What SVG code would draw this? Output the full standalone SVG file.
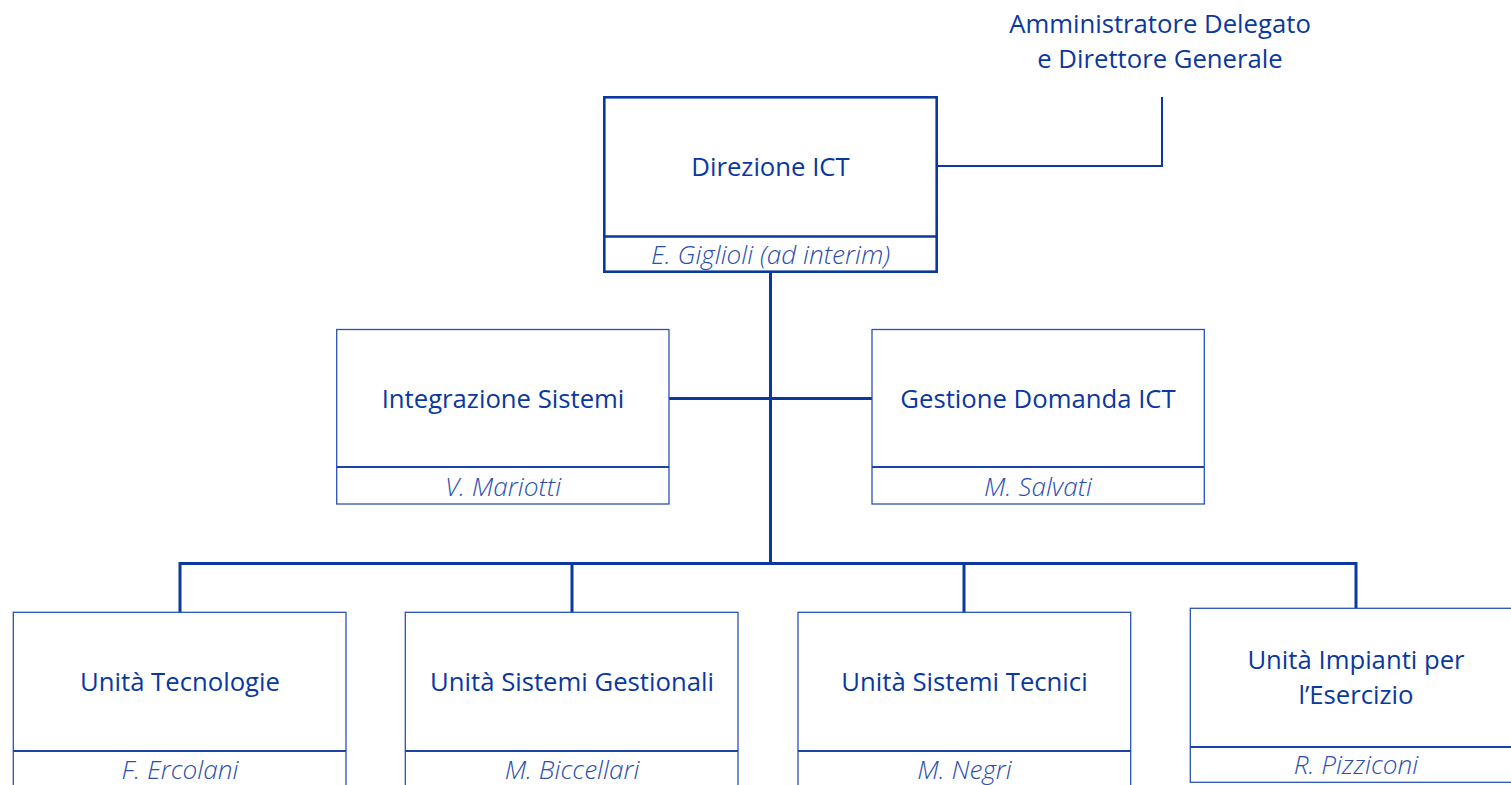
<svg xmlns="http://www.w3.org/2000/svg" width="1511" height="785" viewBox="0 0 1511 785">
<style>
.t{font-family:"Open Sans","Noto Sans","Liberation Sans",sans-serif;font-size:25.7px;fill:#0a38a0;text-anchor:middle}
.n{font-family:"Open Sans","Noto Sans","Liberation Sans",sans-serif;font-size:26.2px;font-style:italic;font-weight:300;fill:#2c4fae;text-anchor:middle}
.box{fill:#fff;stroke:#2a52b5;stroke-width:1.3}
.div{stroke:#1a44a8;stroke-width:2}
.main{fill:#fff;stroke:#0a38a0;stroke-width:2.6}
.c{fill:none;stroke:#0a38a0;stroke-width:3}
.c2{fill:none;stroke:#0a38a0;stroke-width:2}
</style>
<rect width="1511" height="785" fill="#fff"/>
<g id="connectors">
<polyline class="c2" points="937,166 1162,166 1162,97"/>
<line class="c" x1="770.5" y1="272" x2="770.5" y2="563"/>
<line class="c" x1="669" y1="398.5" x2="872" y2="398.5"/>
<polyline class="c" points="180,612 180,563.5 1356,563.5 1356,608"/>
<line class="c" x1="572" y1="563" x2="572" y2="612"/>
<line class="c" x1="964" y1="563" x2="964" y2="612"/>
</g>
<g id="ad">
<text class="t" x="1160" y="33">Amministratore Delegato</text>
<text class="t" x="1160" y="68">e Direttore Generale</text>
</g>
<g id="direzione">
<rect class="main" x="604.3" y="97.3" width="332.4" height="174.4"/>
<line class="main" x1="604" y1="236.5" x2="937" y2="236.5"/>
<text class="t" x="770.5" y="176">Direzione ICT</text>
<text class="n" x="770.5" y="264">E. Giglioli (ad interim)</text>
</g>
<g id="integrazione">
<rect class="box" x="336.7" y="329.5" width="332.3" height="174.5"/>
<line class="div" x1="337" y1="467" x2="669" y2="467"/>
<text class="t" x="503" y="408">Integrazione Sistemi</text>
<text class="n" x="503" y="496">V. Mariotti</text>
</g>
<g id="gestione">
<rect class="box" x="872" y="329.5" width="332.3" height="174.5"/>
<line class="div" x1="872" y1="467" x2="1204" y2="467"/>
<text class="t" x="1038" y="408">Gestione Domanda ICT</text>
<text class="n" x="1038" y="496">M. Salvati</text>
</g>
<g id="tecnologie">
<rect class="box" x="13.3" y="612.3" width="332.7" height="180"/>
<line class="div" x1="13" y1="751" x2="346" y2="751"/>
<text class="t" x="180" y="691">Unità Tecnologie</text>
<text class="n" x="180" y="779">F. Ercolani</text>
</g>
<g id="gestionali">
<rect class="box" x="405.3" y="612.3" width="332.7" height="180"/>
<line class="div" x1="405" y1="751" x2="738" y2="751"/>
<text class="t" x="572" y="691">Unità Sistemi Gestionali</text>
<text class="n" x="572" y="779">M. Biccellari</text>
</g>
<g id="tecnici">
<rect class="box" x="798" y="612.3" width="332.7" height="180"/>
<line class="div" x1="798" y1="751" x2="1131" y2="751"/>
<text class="t" x="964.5" y="691">Unità Sistemi Tecnici</text>
<text class="n" x="964.5" y="779">M. Negri</text>
</g>
<g id="impianti">
<rect class="box" x="1190.3" y="608.3" width="332.7" height="174"/>
<line class="div" x1="1190" y1="747" x2="1523" y2="747"/>
<text class="t" x="1356" y="669">Unità Impianti per</text>
<text class="t" x="1356" y="704">l’Esercizio</text>
<text class="n" x="1356" y="774">R. Pizziconi</text>
</g>
</svg>
